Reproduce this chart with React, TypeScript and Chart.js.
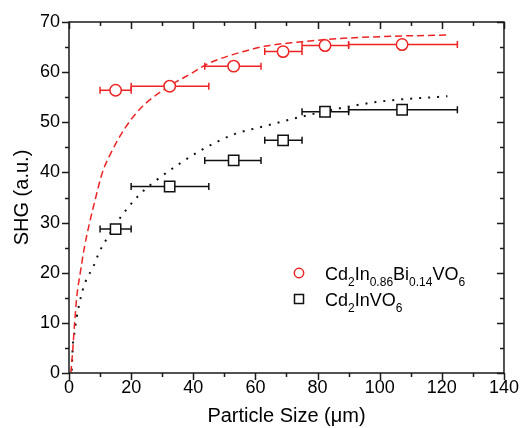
import { useEffect, useRef } from 'react';
import { Chart, registerables } from 'chart.js';
Chart.register(...registerables);

const FONT = "'Liberation Sans', Arial, sans-serif";
const RED = 'rgb(238,36,36)';
const BLACK = '#111';

// measured points
const particleX = [15, 32.4, 53, 68.9, 82.4, 107.2];
const redSHG = [56.4, 57.2, 61.2, 64.1, 65.3, 65.5];
const blackSHG = [28.7, 37.2, 42.4, 46.4, 52.1, 52.5];
const xErrLow = [10, 20, 43.7, 63, 75, 90];
const xErrHigh = [20, 45, 61.8, 75, 90, 125];

// fit curves
const redFitX = [0.6, 1.2, 1.8, 2.5, 3.6, 5.0, 6.6, 8.4, 10.7, 13.2, 18.4, 23.7, 32.3, 39.8, 44.1, 52.7, 63.4, 74.1, 84.8, 100.9, 122.3];
const redFitY = [0.0, 4.5, 9.9, 15.2, 19.9, 25.2, 29.9, 34.5, 39.9, 43.5, 49.2, 53.2, 57.2, 59.9, 61.5, 63.5, 65.2, 66.0, 66.6, 67.1, 67.4];
const blackFitX = [0.9, 1.2, 1.8, 2.5, 3.4, 4.4, 5.3, 7.9, 9.8, 12.5, 15.4, 18.9, 23.2, 28, 35, 41.9, 52.7, 63.4, 74.1, 84.8, 100.9, 121.8];
const blackFitY = [0.5, 5.2, 8.2, 11.2, 14, 16.5, 18.2, 21.3, 24.2, 27.1, 30, 32.9, 35.9, 38.4, 41.5, 44.2, 47.5, 49.3, 51, 52.5, 54.2, 55.2];

const xTickValues = [0, 20, 40, 60, 80, 100, 120, 140];
const yTickValues = [0, 10, 20, 30, 40, 50, 60, 70];
const xMinorValues = [10, 30, 50, 70, 90, 110, 130];
const yMinorValues = [5, 15, 25, 35, 45, 55, 65];

// legend text pieces: [text, isSub]
const legendRed: [string, boolean][] = [['Cd', false], ['2', true], ['In', false], ['0.86', true], ['Bi', false], ['0.14', true], ['VO', false], ['6', true]];
const legendBlack: [string, boolean][] = [['Cd', false], ['2', true], ['In', false], ['VO', false], ['6', true]];

const pts = (xs: number[], ys: number[]) => xs.map((x, i) => ({ x, y: ys[i] }));

const decorPlugin = {
  id: 'decor',
  beforeDatasetsDraw(chart: any) {
    const ctx = chart.ctx;
    const xs = chart.scales.x;
    const ys = chart.scales.y;
    const drawErr = (vals: number[], color: string) => {
      ctx.save();
      ctx.strokeStyle = color;
      ctx.lineWidth = 1.5;
      vals.forEach((v, i) => {
        const py = ys.getPixelForValue(v);
        const x1 = xs.getPixelForValue(xErrLow[i]);
        const x2 = xs.getPixelForValue(xErrHigh[i]);
        ctx.beginPath();
        ctx.moveTo(x1, py);
        ctx.lineTo(x2, py);
        ctx.moveTo(x1, py - 3.5);
        ctx.lineTo(x1, py + 3.5);
        ctx.moveTo(x2, py - 3.5);
        ctx.lineTo(x2, py + 3.5);
        ctx.stroke();
      });
      ctx.restore();
    };
    drawErr(redSHG, RED);
    drawErr(blackSHG, BLACK);
  },
  afterDraw(chart: any) {
    const ctx = chart.ctx;
    const { left, right, top, bottom } = chart.chartArea;
    const xs = chart.scales.x;
    const ys = chart.scales.y;
    ctx.save();
    ctx.strokeStyle = '#1a1a1a';
    ctx.lineWidth = 1.5;
    ctx.strokeRect(left, top, right - left, bottom - top);
    ctx.beginPath();
    const xt = (vals: number[], len: number) => {
      vals.forEach((v) => {
        const px = Math.round(xs.getPixelForValue(v)) + 0.5;
        ctx.moveTo(px, bottom);
        ctx.lineTo(px, bottom + len);
        ctx.moveTo(px, top);
        ctx.lineTo(px, top + len);
      });
    };
    const yt = (vals: number[], len: number) => {
      vals.forEach((v) => {
        const py = Math.round(ys.getPixelForValue(v)) + 0.5;
        ctx.moveTo(left, py);
        ctx.lineTo(left - len, py);
        ctx.moveTo(right, py);
        ctx.lineTo(right - len, py);
      });
    };
    xt(xTickValues, 7);
    xt(xMinorValues, 4);
    yt(yTickValues, 7);
    yt(yMinorValues, 4);
    ctx.stroke();

    // legend
    const drawRich = (parts: [string, boolean][], x: number, y: number) => {
      let cx = x;
      ctx.fillStyle = '#000';
      ctx.textBaseline = 'alphabetic';
      ctx.textAlign = 'left';
      parts.forEach(([t, sub]) => {
        ctx.font = sub ? `12px ${FONT}` : `18px ${FONT}`;
        ctx.fillText(t, cx, sub ? y + 6 : y);
        cx += ctx.measureText(t).width;
      });
    };
    ctx.lineWidth = 1.5;
    ctx.strokeStyle = RED;
    ctx.beginPath();
    ctx.arc(299, 273, 4.7, 0, Math.PI * 2);
    ctx.stroke();
    ctx.strokeStyle = BLACK;
    ctx.strokeRect(294.5, 294.5, 9, 9);
    drawRich(legendRed, 325, 279.5);
    drawRich(legendBlack, 325, 305.5);
    ctx.restore();
  },
};

export default function App() {
  const ref = useRef<HTMLCanvasElement>(null);
  useEffect(() => {
    if (!ref.current) return;
    const chart = new Chart(ref.current, {
      type: 'scatter',
      data: {
        datasets: [
          {
            label: 'Cd2In0.86Bi0.14VO6',
            data: pts(particleX, redSHG),
            pointStyle: 'circle',
            pointRadius: 5.7,
            pointBorderWidth: 1.5,
            borderColor: RED,
            backgroundColor: '#fff',
            showLine: false,
          },
          {
            label: 'Cd2InVO6',
            data: pts(particleX, blackSHG),
            pointStyle: 'rect',
            pointRadius: 7.3,
            pointBorderWidth: 1.5,
            borderColor: BLACK,
            backgroundColor: '#fff',
            showLine: false,
          },
          {
            label: 'fit red',
            data: pts(redFitX, redFitY),
            showLine: true,
            pointRadius: 0,
            borderColor: RED,
            borderWidth: 1.5,
            borderDash: [7, 4],
            cubicInterpolationMode: 'monotone',
          },
          {
            label: 'fit black',
            data: pts(blackFitX, blackFitY),
            showLine: true,
            pointRadius: 0,
            borderColor: BLACK,
            borderWidth: 2,
            borderDash: [2, 7],
            cubicInterpolationMode: 'monotone',
          },
        ],
      },
      options: {
        responsive: false,
        animation: false,
        layout: { padding: { left: 0, top: 22, right: 18, bottom: 0 } },
        plugins: { legend: { display: false }, tooltip: { enabled: false } },
        scales: {
          x: {
            type: 'linear',
            min: 0,
            max: 140,
            afterBuildTicks: (s: any) => { s.ticks = xTickValues.map((v) => ({ value: v })); },
            ticks: { font: { family: FONT, size: 18 }, color: '#000', padding: 4, maxRotation: 0 },
            grid: { display: false, drawTicks: false },
            border: { display: false },
            title: { display: true, text: 'Particle Size (\u03bcm)', font: { family: FONT, size: 20 }, color: '#000', padding: { top: 1, bottom: 0 } },
            afterFit: (s: any) => { s.height = 55; },
          },
          y: {
            type: 'linear',
            min: 0,
            max: 70,
            afterBuildTicks: (s: any) => { s.ticks = yTickValues.map((v) => ({ value: v })); },
            ticks: { font: { family: FONT, size: 18 }, color: '#000', padding: 9 },
            grid: { display: false, drawTicks: false },
            border: { display: false },
            title: { display: true, text: 'SHG (a.u.)', font: { family: FONT, size: 20 }, color: '#000', padding: { top: 10, bottom: 0 } },
            afterFit: (s: any) => { s.width = 69; },
          },
        },
      },
      plugins: [decorPlugin],
    });
    return () => chart.destroy();
  }, []);
  return (
    <div style={{ position: 'absolute', left: 0, top: 0, width: 523, height: 428 }}>
      <canvas ref={ref} width={523} height={428} style={{ display: 'block' }} />
    </div>
  );
}
